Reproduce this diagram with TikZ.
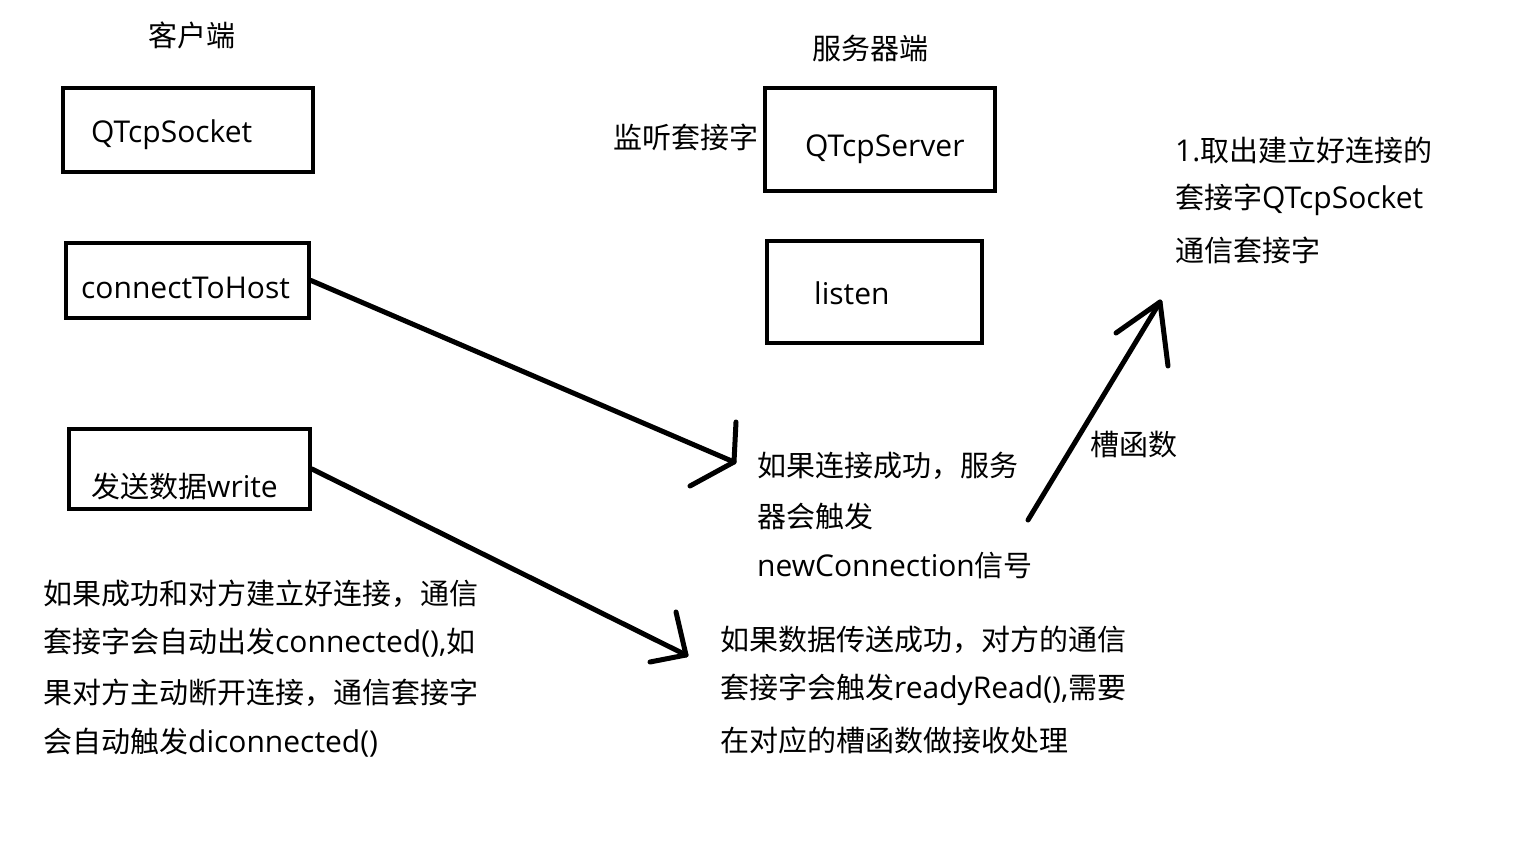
\documentclass[tikz,border=0pt]{standalone}
\usepackage{fontspec}
\newfontfamily\cjk{Noto Sans CJK SC}
\newfontfamily\lat{Open Sans}
\newcommand{\la}[1]{{\lat\fontsize{30}{34}\selectfont #1}}
\tikzset{
  box/.style={draw=black, line width=4pt, fill=none},
  lbl/.style={anchor=west, inner sep=0pt, font=\cjk\fontsize{29}{34}\selectfont},
  stroke/.style={line width=5pt, line cap=round, line join=round},
}
\begin{document}
\begin{tikzpicture}[x=1pt,y=-1pt]
\useasboundingbox[fill=white] (0,0) rectangle (1518,845);
% boxes
\node[box, minimum width=250pt, minimum height=84pt] (sock) at (188,130) {};
\node[box, minimum width=243pt, minimum height=75pt] (conn) at (187.5,280.5) {};
\node[box, minimum width=241pt, minimum height=80pt] (write) at (189.5,469) {};
\node[box, minimum width=230pt, minimum height=103pt] (serv) at (880,139.5) {};
\node[box, minimum width=215pt, minimum height=102pt] (listen) at (874.5,292) {};
% box labels
\node[lbl] (tsock) at (91,135) {\la{QTcpSocket}};
\node[lbl] (tconn) at (81,288) {\la{connectToHost}};
\node[lbl] (twrite) at (91,486) {发送数据\la{write}};
\node[lbl] (tserv) at (805,149) {\la{QTcpServer}};
\node[lbl] (tlisten) at (814,293) {\la{listen}};
% headings
\node[lbl] (client) at (148,35) {客户端};
\node[lbl] (server) at (812,48) {服务器端};
\node[lbl] (listensock) at (613,137) {监听套接字};
% right text
\node[lbl] (r1) at (1175,150) {\la{1.}取出建立好连接的};
\node[lbl] (r2) at (1175,200) {套接字\la{QTcpSocket}};
\node[lbl] (r3) at (1175,250) {通信套接字};
\node[lbl] (slot) at (1090,445) {槽函数};
% middle text
\node[lbl] (m1) at (757,466) {如果连接成功，服务};
\node[lbl] (m2) at (757,516) {器会触发};
\node[lbl] (m3) at (757,566) {\la{newConnection}信号};
% left bottom text
\node[lbl] (l1) at (43,594) {如果成功和对方建立好连接，通信};
\node[lbl] (l2) at (43,643) {套接字会自动出发\la{connected(),}如};
\node[lbl] (l3) at (43,693) {果对方主动断开连接，通信套接字};
\node[lbl] (l4) at (43,743) {会自动触发\la{diconnected()}};
% bottom middle text
\node[lbl] (b1) at (720,640) {如果数据传送成功，对方的通信};
\node[lbl] (b2) at (720,690) {套接字会触发\la{readyRead(),}需要};
\node[lbl] (b3) at (720,740) {在对应的槽函数做接收处理};
% arrows (hand drawn)
\coordinate (h1) at (734,462);
\coordinate (h2) at (686,655);
\coordinate (h3) at (1160,302);
\coordinate (s3) at (1028,520);
\draw[stroke] (conn.east) -- (h1);
\draw[stroke] (736,422) -- (h1) -- (690,486);
\draw[stroke] (write.east) -- (h2);
\draw[stroke] (676,612) -- (h2) -- (650,662);
\draw[stroke] (s3) -- (h3);
\draw[stroke] (1116,333) -- (h3) -- (1168,366);
\end{tikzpicture}
\end{document}
